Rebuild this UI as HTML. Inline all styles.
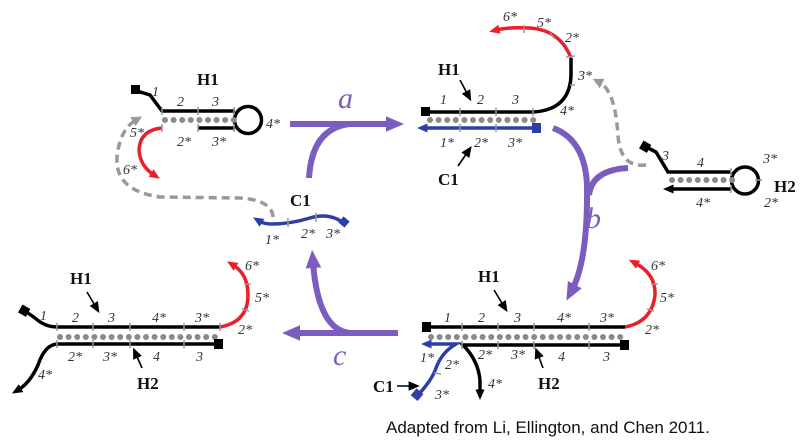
<!DOCTYPE html>
<html><head><meta charset="utf-8"><style>
html,body{margin:0;padding:0;background:#fff;}
svg{display:block;}
.l{font-family:"Liberation Serif",serif;font-style:italic;font-size:14px;fill:#333;}
.b{font-family:"Liberation Serif",serif;font-weight:bold;font-size:17px;fill:#111;}
.p{font-family:"Liberation Serif",serif;font-style:italic;font-size:30px;fill:#7b5cbf;}
.s{fill:none;stroke:#000;stroke-width:3.5;}
.r{fill:none;stroke:#e8202a;stroke-width:3.5;}
.bl{fill:none;stroke:#2e3ea8;stroke-width:3.5;}
.d{fill:none;stroke:#8a8a8a;stroke-width:6;stroke-linecap:round;stroke-dasharray:0 8.6;}
.g{fill:none;stroke:#999;stroke-width:3.5;stroke-dasharray:8 5;}
.pu{fill:none;stroke:#7b5cbf;stroke-width:6;}
.t{stroke:#999;stroke-width:1.5;}
.a{fill:none;stroke:#000;stroke-width:1.6;}
</style></head><body>
<svg width="800" height="447" viewBox="0 0 800 447" xmlns="http://www.w3.org/2000/svg">
<defs>
<marker id="ak" markerWidth="4" markerHeight="4" refX="1" refY="1.5" orient="auto" markerUnits="strokeWidth" overflow="visible"><path d="M0,0.2 L3,1.5 L0,2.8 Z" fill="#000"/></marker>
<marker id="ar" markerWidth="4" markerHeight="4" refX="1" refY="1.5" orient="auto" markerUnits="strokeWidth" overflow="visible"><path d="M0,0.2 L3,1.5 L0,2.8 Z" fill="#e8202a"/></marker>
<marker id="ab" markerWidth="4" markerHeight="4" refX="1" refY="1.5" orient="auto" markerUnits="strokeWidth" overflow="visible"><path d="M0,0.2 L3,1.5 L0,2.8 Z" fill="#2e3ea8"/></marker>
<marker id="ag" markerWidth="4" markerHeight="4" refX="1" refY="1.5" orient="auto" markerUnits="strokeWidth" overflow="visible"><path d="M0,0 L3,1.5 L0,3 Z" fill="#999"/></marker>
<marker id="ap" markerWidth="4" markerHeight="4" refX="1" refY="1.3" orient="auto" markerUnits="strokeWidth" overflow="visible"><path d="M0,0 L3,1.3 L0,2.6 Z" fill="#7b5cbf"/></marker>
<marker id="sa" markerWidth="8" markerHeight="8" refX="4" refY="4" orient="auto"><path d="M0,1 L7,4 L0,7 Z" fill="#000"/></marker>
</defs>

<!-- purple arrows -->
<path class="pu" d="M290,124 L392,124" marker-end="url(#ap)"/>
<path class="pu" d="M309,178 Q312,128 350,124"/>
<path class="pu" d="M553,128 Q585,140 587,185 Q588,260 572,290" marker-end="url(#ap)"/>
<path class="pu" d="M628,168 Q592,170 589,195"/>
<path class="pu" d="M398,333 L294,333" marker-end="url(#ap)"/>
<path class="pu" d="M350,333 Q318,330 313,262" marker-end="url(#ap)"/>
<text class="p" x="338" y="108">a</text>
<text class="p" x="586" y="228">b</text>
<text class="p" x="333" y="365">c</text>

<!-- grey dashed -->
<path class="g" d="M273,217 Q272,200 240,198 L160,197 Q110,190 118,150 Q122,128 136,120" marker-end="url(#ag)"/>
<path class="g" d="M646,165 Q620,168 618,135 Q615,90 599,82" marker-end="url(#ag)"/>

<!-- top-left H1 -->
<path class="s" d="M137,91 L150,95 L162,111 L235,111"/>
<rect x="131" y="85" width="9" height="9" fill="#000"/>
<circle cx="248" cy="120" r="13.5" class="s"/>
<path class="s" d="M198,128 L235,128"/>
<path class="r" d="M162,128 Q140,130 139,150 Q140,166 154,175" marker-end="url(#ar)"/>
<line class="d" x1="165" y1="120" x2="236" y2="120"/>
<line class="t" x1="162" y1="107" x2="162" y2="115"/><line class="t" x1="198" y1="107" x2="198" y2="115"/><line class="t" x1="234" y1="107" x2="234" y2="115"/>
<line class="t" x1="162" y1="124" x2="162" y2="132"/><line class="t" x1="198" y1="124" x2="198" y2="132"/><line class="t" x1="234" y1="124" x2="234" y2="132"/>
<text class="b" x="197" y="85">H1</text>
<text class="l" x="152" y="96">1</text>
<text class="l" x="177" y="106">2</text>
<text class="l" x="212" y="106">3</text>
<text class="l" x="130" y="137">5*</text>
<text class="l" x="177" y="146">2*</text>
<text class="l" x="212" y="146">3*</text>
<text class="l" x="123" y="174">6*</text>
<text class="l" x="266" y="128">4*</text>

<!-- C1 middle -->
<path class="bl" d="M345,224 Q330,212 310,218 Q290,224 272,224 Q264,224 259,221" marker-end="url(#ab)"/>
<rect x="340" y="218" width="8" height="8" fill="#2e3ea8" transform="rotate(40 344 222)"/>
<line class="t" x1="288" y1="218" x2="288" y2="227"/><line class="t" x1="316" y1="213" x2="316" y2="222"/>
<text class="b" x="290" y="206">C1</text>
<text class="l" x="265" y="244">1*</text>
<text class="l" x="301" y="238">2*</text>
<text class="l" x="326" y="238">3*</text>

<!-- top-right -->
<path class="s" d="M424,112 L533,112 Q570,110 571,75 L571,58"/>
<rect x="421" y="107" width="9" height="9" fill="#000"/>
<path class="r" d="M571,58 Q560,30 530,28 Q508,27 496,30" marker-end="url(#ar)"/>
<line class="d" x1="430" y1="120" x2="534" y2="120"/>
<path class="bl" d="M538,128 L424,128" marker-end="url(#ab)"/>
<rect x="532" y="123" width="9" height="10" fill="#2e3ea8"/>
<g class="t"><line x1="460" y1="108" x2="460" y2="116"/><line x1="496" y1="108" x2="496" y2="116"/><line x1="533" y1="108" x2="533" y2="116"/><line x1="460" y1="124" x2="460" y2="132"/><line x1="496" y1="124" x2="496" y2="132"/><line x1="570" y1="85" x2="575" y2="85"/><line x1="566" y1="57" x2="575" y2="56"/><line x1="550" y1="33" x2="555" y2="39"/><line x1="524" y1="25" x2="524" y2="33"/></g>
<text class="b" x="438" y="75">H1</text>
<path class="a" d="M460,80 L469,97" marker-end="url(#sa)"/>
<text class="l" x="440" y="104">1</text>
<text class="l" x="477" y="104">2</text>
<text class="l" x="512" y="104">3</text>
<text class="l" x="560" y="115">4*</text>
<text class="l" x="578" y="80">3*</text>
<text class="l" x="565" y="42">2*</text>
<text class="l" x="537" y="27">5*</text>
<text class="l" x="503" y="21">6*</text>
<text class="l" x="440" y="147">1*</text>
<text class="l" x="474" y="147">2*</text>
<text class="l" x="508" y="147">3*</text>
<path class="a" d="M458,166 L469,150" marker-end="url(#sa)"/>
<text class="b" x="438" y="185">C1</text>

<!-- H2 right -->
<path class="s" d="M646,147 L656,152 L668,172 L731,172"/>
<rect x="641" y="142" width="9" height="9" fill="#000" transform="rotate(30 645 146)"/>
<circle cx="745" cy="180.5" r="13.5" class="s"/>
<path class="s" d="M731,189 L670,189" marker-end="url(#ak)"/>
<line class="d" x1="672" y1="180" x2="733" y2="180"/>
<g class="t"><line x1="731" y1="168" x2="731" y2="176"/><line x1="731" y1="185" x2="731" y2="193"/><line x1="755" y1="180" x2="762" y2="180"/></g>
<text class="l" x="662" y="160">3</text>
<text class="l" x="697" y="167">4</text>
<text class="l" x="763" y="163">3*</text>
<text class="b" x="774" y="192">H2</text>
<text class="l" x="696" y="207">4*</text>
<text class="l" x="764" y="207">2*</text>

<!-- bottom-left -->
<path class="s" d="M25,311 L35,318 Q45,327 57,327 L220,327"/>
<rect x="20" y="306" width="9" height="9" fill="#000" transform="rotate(30 24 310)"/>
<path class="r" d="M220,327 Q248,322 248,295 Q248,274 233,265" marker-end="url(#ar)"/>
<line class="d" x1="60" y1="337" x2="219" y2="337"/>
<path class="s" d="M221,344 L58,344 Q45,344 38,365 Q30,383 18,390" marker-end="url(#ak)"/>
<rect x="214" y="339" width="9" height="10" fill="#000"/>
<g class="t"><line x1="57" y1="323" x2="57" y2="331"/><line x1="93" y1="323" x2="93" y2="331"/><line x1="130" y1="323" x2="130" y2="331"/><line x1="184" y1="323" x2="184" y2="331"/><line x1="220" y1="323" x2="220" y2="331"/><line x1="57" y1="340" x2="57" y2="348"/><line x1="93" y1="340" x2="93" y2="348"/><line x1="130" y1="340" x2="130" y2="348"/><line x1="184" y1="340" x2="184" y2="348"/><line x1="244" y1="284" x2="251" y2="284"/><line x1="242" y1="309" x2="249" y2="311"/></g>
<text class="b" x="70" y="284">H1</text>
<path class="a" d="M87,292 L97,309" marker-end="url(#sa)"/>
<text class="l" x="40" y="320">1</text>
<text class="l" x="72" y="322">2</text>
<text class="l" x="108" y="322">3</text>
<text class="l" x="152" y="322">4*</text>
<text class="l" x="195" y="322">3*</text>
<text class="l" x="245" y="270">6*</text>
<text class="l" x="255" y="302">5*</text>
<text class="l" x="238" y="334">2*</text>
<text class="l" x="68" y="361">2*</text>
<text class="l" x="103" y="361">3*</text>
<text class="l" x="153" y="361">4</text>
<text class="l" x="196" y="361">3</text>
<text class="l" x="38" y="379">4*</text>
<text class="b" x="137" y="389">H2</text>
<path class="a" d="M142,368 L135,352" marker-end="url(#sa)"/>

<!-- bottom-right -->
<path class="s" d="M427,327 L625,327"/>
<rect x="422" y="322" width="9" height="10" fill="#000"/>
<path class="r" d="M625,327 Q652,322 655,295 Q656,274 635,263" marker-end="url(#ar)"/>
<line class="d" x1="431" y1="337" x2="623" y2="337"/>
<path class="s" d="M625,345 L463,345 Q478,360 480,380 L480,393" marker-end="url(#ak)"/>
<rect x="620" y="340" width="9" height="10" fill="#000"/>
<path class="bl" d="M418,395 Q432,380 436,368 Q442,352 456,344 L428,344" marker-end="url(#ab)"/>
<rect x="413" y="390" width="9" height="9" fill="#2e3ea8" transform="rotate(40 417 394)"/>
<g class="t"><line x1="462" y1="323" x2="462" y2="331"/><line x1="498" y1="323" x2="498" y2="331"/><line x1="534" y1="323" x2="534" y2="331"/><line x1="589" y1="323" x2="589" y2="331"/><line x1="462" y1="341" x2="462" y2="349"/><line x1="498" y1="341" x2="498" y2="349"/><line x1="534" y1="341" x2="534" y2="349"/><line x1="589" y1="341" x2="589" y2="349"/><line x1="651" y1="284" x2="658" y2="284"/><line x1="647" y1="309" x2="654" y2="311"/><line x1="434" y1="373" x2="441" y2="374"/></g>
<text class="b" x="478" y="282">H1</text>
<path class="a" d="M494,290 L505,308" marker-end="url(#sa)"/>
<text class="l" x="444" y="322">1</text>
<text class="l" x="478" y="322">2</text>
<text class="l" x="514" y="322">3</text>
<text class="l" x="557" y="322">4*</text>
<text class="l" x="600" y="322">3*</text>
<text class="l" x="651" y="270">6*</text>
<text class="l" x="660" y="302">5*</text>
<text class="l" x="645" y="334">2*</text>
<text class="l" x="420" y="362">1*</text>
<text class="l" x="445" y="369">2*</text>
<text class="l" x="478" y="359">2*</text>
<text class="l" x="511" y="359">3*</text>
<text class="l" x="558" y="361">4</text>
<text class="l" x="603" y="361">3</text>
<text class="l" x="488" y="388">4*</text>
<text class="l" x="435" y="399">3*</text>
<text class="b" x="538" y="389">H2</text>
<path class="a" d="M543,368 L537,352" marker-end="url(#sa)"/>
<text class="b" x="373" y="392">C1</text>
<path class="a" d="M397,386 L415,386" marker-end="url(#sa)"/>

<text x="386" y="433" style="font-family:'Liberation Sans',sans-serif;font-size:17px;fill:#111;">Adapted from Li, Ellington, and Chen 2011.</text>
</svg>
</body></html>
